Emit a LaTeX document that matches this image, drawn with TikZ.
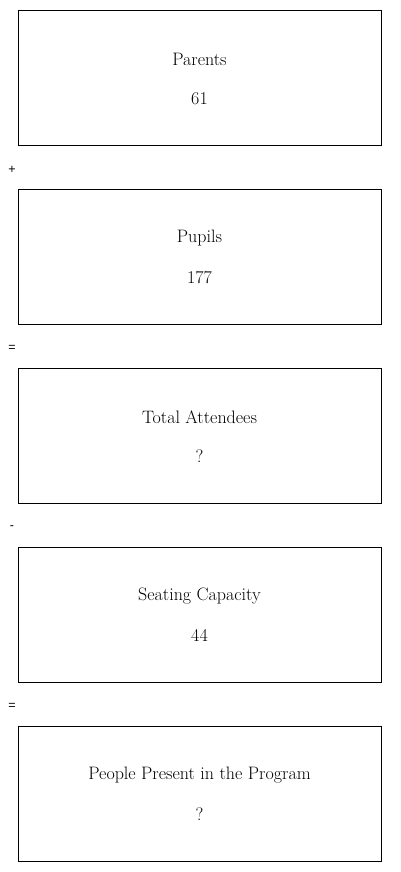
\documentclass[tikz,border=0pt]{standalone}
\usepackage{fontspec}
\usetikzlibrary{calc}
\newfontfamily\opfont{Liberation Sans}
\begin{document}
\begin{tikzpicture}[x=1pt,y=-1pt,
  box/.style={draw=black,line width=0.8pt,minimum width=363pt,minimum height=135pt,inner sep=0pt},
  lbl/.style={font=\fontsize{18}{20}\selectfont,anchor=center},
  op/.style={font=\opfont\fontsize{12.5}{14}\selectfont,anchor=center}]
\useasboundingbox (0,0) rectangle (400,872);
\foreach \i/\t/\v in {0/Parents/61,1/Pupils/177,2/Total Attendees/?,3/Seating Capacity/44,4/People Present in the Program/?}{
  \node[box] (b\i) at (199.5,{77.5+179*\i}) {};
  \node[lbl] (l\i) at ($(b\i.center)+(0,-18)$) {\t};
  \node[lbl] (v\i) at ($(b\i.center)+(0,21)$) {\v};
}
\foreach \i/\o in {0/+,1/=,2/-,3/=}{
  \node[op] (o\i) at (12,{169.5+179*\i}) {\o};
}
\end{tikzpicture}
\end{document}
